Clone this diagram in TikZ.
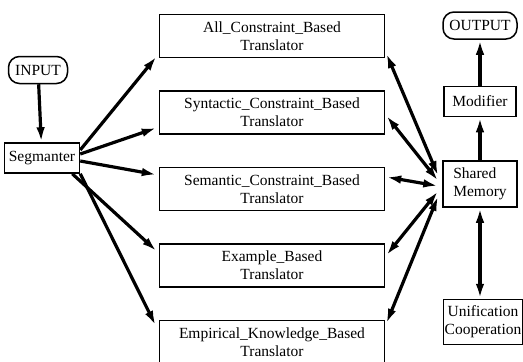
\documentclass[tikz,border=0pt]{standalone}
\usepackage{fontspec}
\setmainfont{Liberation Serif}
\usetikzlibrary{arrows.meta,positioning}

\begin{document}
\begin{tikzpicture}[
  x=1pt, y=-1pt,
  node distance=32pt,
  box/.style={draw, line width=1.5pt, align=center, inner sep=1.5pt, font=\fontsize{15.5}{18}\selectfont},
  trans/.style={box, minimum width=225pt, minimum height=43pt},
  term/.style={box, rounded corners=11pt, minimum height=27pt},
  flow/.style={line width=3.2pt, -{Latex[length=15pt,width=8.5pt]}},
  both/.style={line width=3.2pt, {Latex[length=15pt,width=8.5pt]}-{Latex[length=15pt,width=8.5pt]}}]
  \useasboundingbox (0,0) rectangle (523,362);
  % left column
  \node[term, minimum width=59pt] (in) at (38,70) {INPUT};
  \node[box, minimum width=75pt, minimum height=30pt] (seg) at (42,158) {Segmanter};
  % translators
  \node[trans] (all) at (272,36) {All\_Constraint\_Based\\Translator};
  \node[trans, below=of all] (syn) {Syntactic\_Constraint\_Based\\Translator};
  \node[trans, below=of syn] (sem) {Semantic\_Constraint\_Based\\Translator};
  \node[trans, below=of sem] (ex) {Example\_Based\\Translator};
  \node[trans, below=of ex] (emp) {Empirical\_Knowledge\_Based\\Translator};
  % right column
  \node[box, align=left, minimum width=74pt, minimum height=46pt] (mem) at (480,184) {Shared\\Memory};
  \node[box, minimum width=72pt, minimum height=30pt, above=43pt of mem] (mod) {Modifier};
  \node[term, minimum width=74pt, above=46pt of mod] (out) {OUTPUT};
  \node[box, inner sep=1pt, minimum width=77pt, minimum height=45pt] (uni) at (483,322) {Unification\\Cooperation};
  % connectors
  \draw[flow] (in) -- (seg);
  \draw[flow] ([yshift=8pt]seg.east) -- ([shift={(-2pt,2pt)}]all.south west);
  \draw[flow] ([yshift=4pt]seg.east) -- ([shift={(-2pt,7pt)}]syn.south west);
  \draw[flow] ([yshift=-3pt]seg.east) -- ([shift={(-2pt,-8pt)}]sem.north west);
  \draw[flow] ([xshift=-8pt]seg.south east) -- ([shift={(-2pt,-8pt)}]ex.north west);
  \draw[flow] (seg.south east) -- ([shift={(-3pt,-6pt)}]emp.north west);
  \draw[both] ([shift={(1pt,5pt)}]all.south east) -- ([shift={(-4pt,8pt)}]mem.west);
  \draw[both] ([shift={(1pt,-3pt)}]syn.east) -- ([shift={(-4pt,3pt)}]mem.west);
  \draw[both] ([shift={(1pt,12pt)}]sem.east) -- ([shift={(-4pt,-2pt)}]mem.west);
  \draw[both] ([shift={(1pt,10pt)}]ex.east) -- ([shift={(-4pt,-7pt)}]mem.west);
  \draw[both] ([shift={(1pt,-4pt)}]emp.north east) -- ([shift={(-4pt,-12pt)}]mem.west);
  \draw[flow] (mem) -- (mod);
  \draw[flow] (mod) -- (out);
  \draw[both] (mem.south) -- (mem.south |- uni.north);
\end{tikzpicture}
\end{document}
